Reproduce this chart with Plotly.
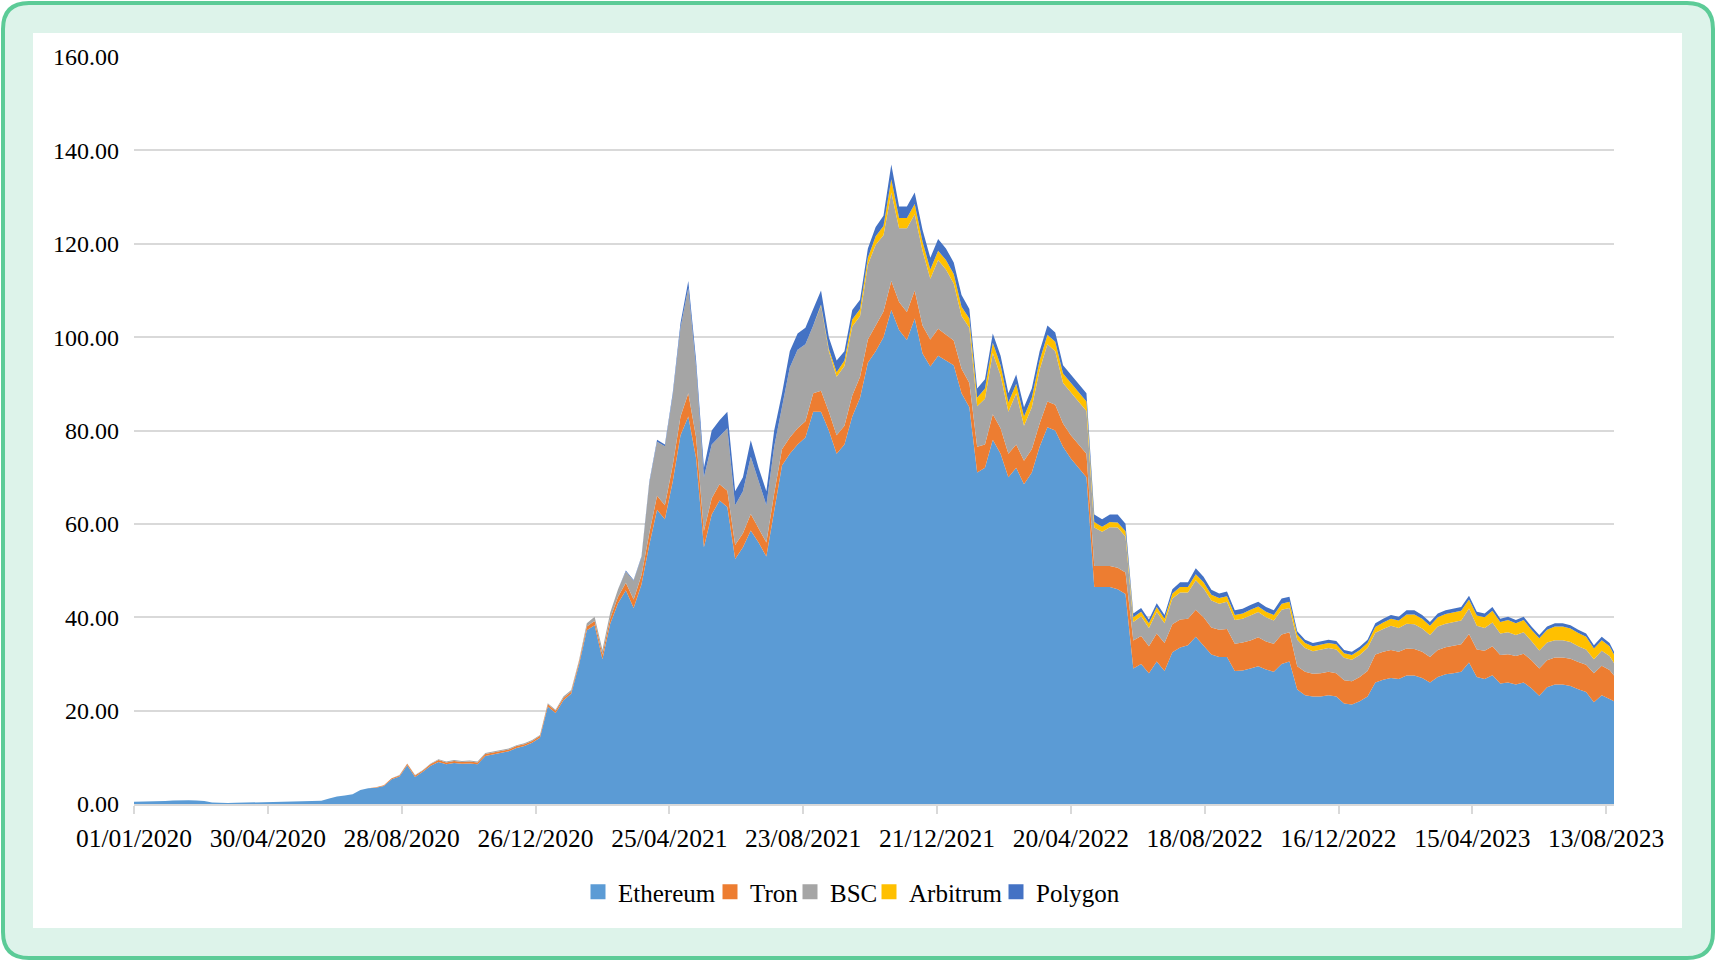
import plotly.graph_objects as go
import pandas as pd

# ---------------- data (weekly readings, stacked values) ----------------
dates = list(pd.date_range("2020-01-01", periods=190, freq="7D").strftime("%Y-%m-%d")) + ["2023-08-20"]

tick_labels = ["01/01/2020", "30/04/2020", "28/08/2020", "26/12/2020", "25/04/2021", "23/08/2021",
               "21/12/2021", "20/04/2022", "18/08/2022", "16/12/2022", "15/04/2023", "13/08/2023"]

series_names = ["Ethereum", "Tron", "BSC", "Arbitrum", "Polygon"]

ethereum = [
    0.5, 0.5, 0.55, 0.6, 0.65, 0.75, 0.85, 0.8, 0.75, 0.65,
    0.3, 0.2, 0.2, 0.25, 0.3, 0.35, 0.35, 0.4, 0.45, 0.45,
    0.5, 0.5, 0.55, 0.6, 0.7, 1.2, 1.6, 1.8, 2.1, 3.0,
    3.4, 3.5, 3.85, 5.3, 5.9, 8.3, 5.8, 6.9, 8.2, 9.0,
    8.5, 8.8, 8.6, 8.7, 8.5, 10.3, 10.6, 11.0, 11.3, 12.0,
    12.4, 13.1, 14.2, 20.9, 19.5, 22.2, 23.6, 29.8, 37.2, 38.3,
    31, 38.6, 43, 45.8, 42, 47, 55.5, 63, 61, 69,
    79, 83, 74, 55, 62, 65, 63.6, 52.5, 55, 58.6,
    56, 53, 63, 72.5, 75, 77, 78.5, 84, 84, 80,
    75, 77, 83, 87, 94.5, 97, 100, 105.8, 101.5, 99.4,
    104, 96.5, 93.7, 96, 95, 94, 88, 85, 71, 72,
    78, 75, 70, 72, 68.5, 71, 76.5, 80.7, 80, 76.5,
    74, 72, 70, 46.5, 46.5, 46.5, 46, 45, 29, 30,
    28, 30.5, 28.5, 32.5, 33.5, 34, 35.8, 34, 32, 31.5,
    31.5, 28.5, 28.6, 29, 29.5, 28.8, 28.3, 30, 30.5, 24.5,
    23.3, 23, 23, 23.3, 23, 21.5, 21.3, 22, 23, 26,
    26.6, 27, 26.8, 27.5, 27.5, 27, 26, 27.2, 27.8, 28,
    28.3, 30.3, 27.2, 26.8, 27.6, 25.8, 26, 25.6, 26, 24.8,
    23.2, 25, 25.6, 25.6, 25.3, 24.6, 24, 21.8, 23.3, 22.5,
    22,
]

tron = [0] * 31 + [
    0.1, 0.15, 0.2, 0.2, 0.3, 0.3, 0.3, 0.35, 0.4,
    0.4, 0.4, 0.4, 0.4, 0.4, 0.4, 0.4, 0.4, 0.4, 0.4,
    0.4, 0.4, 0.4, 0.45, 0.45, 0.5, 0.5, 0.6, 0.8, 0.9,
    1, 1.2, 1.4, 1.6, 1.8, 2, 2.5, 3, 3, 3.5,
    4, 5, 4.5, 3.5, 3.5, 3.5, 3.5, 3, 3, 3.5,
    3, 3, 3.5, 3.5, 3.5, 3.5, 3.5, 4, 4.5, 4,
    4, 4, 4.5, 4.5, 5, 5.5, 5.5, 6.2, 6, 6,
    6, 6, 5.8, 5.8, 5.5, 5.3, 5.2, 5.2, 5.5, 5,
    5.5, 5.5, 5, 5, 5, 5, 5, 5.5, 5.5, 5,
    5, 5, 5, 4.5, 4.5, 4.5, 4.6, 4.6, 6, 6,
    5.8, 6, 6, 6, 6, 5.7, 5.8, 6, 5.8, 5.8,
    6, 5.8, 6, 6, 6.2, 6, 6, 6.3, 6.3, 5,
    5, 4.9, 5, 5, 5, 5, 5, 5.2, 5.5, 6,
    6, 6, 5.8, 5.8, 5.7, 5.6, 5.5, 5.8, 5.8, 5.9,
    5.9, 6.1, 5.9, 6, 6.2, 6.1, 6.1, 6.1, 6.2, 6,
    5.8, 5.8, 5.8, 5.8, 5.8, 5.8, 5.8, 6.2, 6.3, 6.2,
    5.5,
]

bsc = [0] * 34 + [
    0.1, 0.1, 0.1, 0.1, 0.15, 0.2,
    0.2, 0.2, 0.2, 0.2, 0.2, 0.2, 0.2, 0.2, 0.2, 0.2,
    0.2, 0.2, 0.2, 0.25, 0.25, 0.3, 0.3, 0.4, 0.7, 0.9,
    1, 1.2, 1.6, 2.4, 4.0, 3.8, 10.7, 11.6, 12.6, 14.9,
    19, 22.5, 15, 11.5, 11.5, 10.2, 13.4, 8.5, 9, 12.3,
    10, 8, 10, 8.9, 15, 16.8, 16.5, 14.5, 18.2, 13,
    12.5, 12.8, 14.8, 13, 16, 17.3, 16.3, 19, 15.8, 17.9,
    16.3, 16, 13, 14.7, 14, 12.2, 11.3, 11.8, 8.7, 9.8,
    13.1, 11.3, 9, 11, 7.5, 9, 11.5, 12.3, 11.5, 8.7,
    9.2, 9.2, 9.2, 8.2, 7.3, 8.3, 8.6, 7.7, 4, 4.2,
    3.9, 4.7, 4.2, 5.5, 5.8, 5.6, 6.3, 6.2, 5.8, 5.6,
    5.8, 5.1, 5.1, 5.4, 5.4, 5.2, 5, 5.3, 5.2, 5.7,
    5.1, 4.8, 5.1, 5.1, 5.1, 4.8, 4.6, 4.7, 4.9, 4.7,
    4.9, 5.2, 5.1, 5.3, 5.3, 5.0, 4.7, 5.0, 5.0, 5.1,
    5.1, 5.5, 5.1, 4.9, 5.1, 4.6, 4.7, 4.5, 4.6, 4.1,
    3.9, 3.8, 3.7, 3.7, 3.6, 3.4, 3.3, 3.0, 3.2, 3.0,
    2.7,
]

arbitrum = [0] * 88 + [
    0.3, 0.5,
    1, 1.2, 1.5, 1.5, 1.5, 1.8, 2, 2.8, 2.2, 2.2,
    2.2, 2, 2, 2, 2, 2, 2, 2, 1.8, 2.2,
    2.2, 2.2, 2, 2, 2, 2, 2, 2, 2, 2,
    2, 2, 2, 1.2, 1.1, 1.1, 1.1, 1.1, 1, 1,
    1, 1, 1, 1.1, 1.2, 1.2, 1.3, 1.3, 1.2, 1.2,
    1.2, 1.1, 1.1, 1.2, 1.2, 1.2, 1.2, 1.3, 1.3, 1.1,
    1.1, 1.1, 1.1, 1.1, 1.1, 1.0, 1.0, 1.1, 1.1, 1.2,
    1.4, 1.5, 1.6, 2.0, 2.1, 2.1, 2.0, 2.0, 2.1, 2.1,
    2.1, 1.9, 2.2, 2.3, 2.5, 2.5, 2.6, 2.5, 2.6, 2.4,
    2.6, 2.7, 2.9, 2.9, 2.9, 2.8, 2.7, 2.3, 2.3, 2.1,
    1.8,
]

polygon = [0] * 63 + [
    0.2, 0.2, 0.2, 0.3, 0.4, 0.4, 0.6,
    1, 1.5, 1.5, 2, 3, 3.5, 3.5, 3, 3, 3.5,
    3, 3, 3.5, 3, 3.5, 3.5, 3.5, 3.5, 3, 2.5,
    2.5, 2, 2, 2, 2, 2, 2.2, 3.2, 2.5, 2.5,
    2.5, 2.5, 2.5, 2.5, 2.5, 2.5, 2.5, 2, 2, 2,
    2, 2, 2, 2, 2, 2, 2, 2, 2, 1.8,
    1.8, 1.8, 1.8, 1.6, 1.6, 1.6, 1.7, 1.6, 0.8, 0.8,
    0.8, 0.8, 0.8, 0.9, 1.0, 1.0, 1.3, 1.2, 1.1, 1.0,
    1.0, 1.0, 1.0, 1.0, 1.0, 1.0, 1.0, 1.1, 1.1, 0.7,
    0.7, 0.7, 0.7, 0.7, 0.7, 0.7, 0.7, 0.7, 0.7, 0.8,
    0.8, 0.8, 0.8, 0.9, 0.9, 0.8, 0.8, 0.8, 0.8, 0.8,
    0.8, 0.8, 0.8, 0.8, 0.8, 0.7, 0.7, 0.7, 0.7, 0.7,
    0.7, 0.7, 0.7, 0.7, 0.7, 0.7, 0.7, 0.7, 0.7, 0.7,
    0.6,
]

# ---------------- styling ----------------
colors = ["#5B9BD5", "#ED7D31", "#A5A5A5", "#FFC000", "#4472C4"]
FONT = "Liberation Serif"
W, H = 1716, 961
L, R, T, B = 134, 102, 57, 157
PW, PH = W - L - R, H - T - B


def px(x):
    return (x - L) / PW


def py(y):
    return (H - B - y) / PH


# left pixel where each legend entry's text starts (one small legend per entry)
legend_text_x = [618, 750, 830, 909, 1036]
legend_ids = ["legend", "legend2", "legend3", "legend4", "legend5"]

fig = go.Figure()
for name, vals, col, lid in zip(series_names, [ethereum, tron, bsc, arbitrum, polygon], colors, legend_ids):
    fig.add_trace(go.Scatter(
        x=dates, y=vals, name=name, mode="lines", stackgroup="one",
        line=dict(width=0, color=col), fillcolor=col, showlegend=False,
        hoverinfo="skip",
    ))
    fig.add_trace(go.Scatter(
        x=[None], y=[None], name=name, mode="markers",
        marker=dict(symbol="square", size=15, color=col), showlegend=True, legend=lid,
    ))

tick_vals = [pd.to_datetime(t, format="%d/%m/%Y").strftime("%Y-%m-%d") for t in tick_labels]

# outer rounded frame
x0, y0, x1, y1, r = 3, 3, 1713, 958, 26
frame = (f"M{px(x0+r)},{py(y0)} L{px(x1-r)},{py(y0)} Q{px(x1)},{py(y0)} {px(x1)},{py(y0+r)} "
         f"L{px(x1)},{py(y1-r)} Q{px(x1)},{py(y1)} {px(x1-r)},{py(y1)} "
         f"L{px(x0+r)},{py(y1)} Q{px(x0)},{py(y1)} {px(x0)},{py(y1-r)} "
         f"L{px(x0)},{py(y0+r)} Q{px(x0)},{py(y0)} {px(x0+r)},{py(y0)} Z")

shapes = [
    dict(type="path", xref="paper", yref="paper", path=frame,
         fillcolor="#DDF3EA", line=dict(color="#5CCB97", width=4), layer="below"),
    dict(type="rect", xref="paper", yref="paper", x0=px(33), x1=px(1682), y0=py(928), y1=py(33),
         fillcolor="#FFFFFF", line=dict(width=0), layer="below"),
]

legend_layouts = {}
for lid, tx in zip(legend_ids, legend_text_x):
    legend_layouts[lid] = dict(
        orientation="h", x=px(tx - 40), xanchor="left", y=py(892), yanchor="middle",
        font=dict(family=FONT, size=25, color="#000000"), bgcolor="rgba(0,0,0,0)",
        itemwidth=30, borderwidth=0,
    )

fig.update_layout(
    width=W, height=H,
    margin=dict(l=L, r=R, t=T, b=B),
    paper_bgcolor="#FFFFFF", plot_bgcolor="rgba(0,0,0,0)",
    font=dict(family=FONT, size=24, color="#000000"),
    shapes=shapes,
    hovermode=False,
    showlegend=True,
    xaxis=dict(
        type="date", range=["2020-01-01", "2023-08-20"],
        tickvals=tick_vals, ticktext=tick_labels,
        showgrid=False, showline=True, linecolor="#D9D9D9", linewidth=1.5,
        ticks="outside", ticklen=8, tickwidth=1.5, tickcolor="#D9D9D9",
        tickfont=dict(family=FONT, size=25.5, color="#000000"),
        ticklabelstandoff=3, zeroline=False,
    ),
    yaxis=dict(
        range=[0, 160], dtick=20, tick0=0, tickformat=".2f",
        showgrid=True, gridcolor="#D9D9D9", gridwidth=1.5,
        zeroline=False, showline=False, ticks="",
        tickfont=dict(family=FONT, size=24, color="#000000"),
        ticklabelstandoff=14,
    ),
    **legend_layouts,
)

fig.write_html("out.html", config={"displayModeBar": False},
               post_script="document.body.style.margin='0px';")
